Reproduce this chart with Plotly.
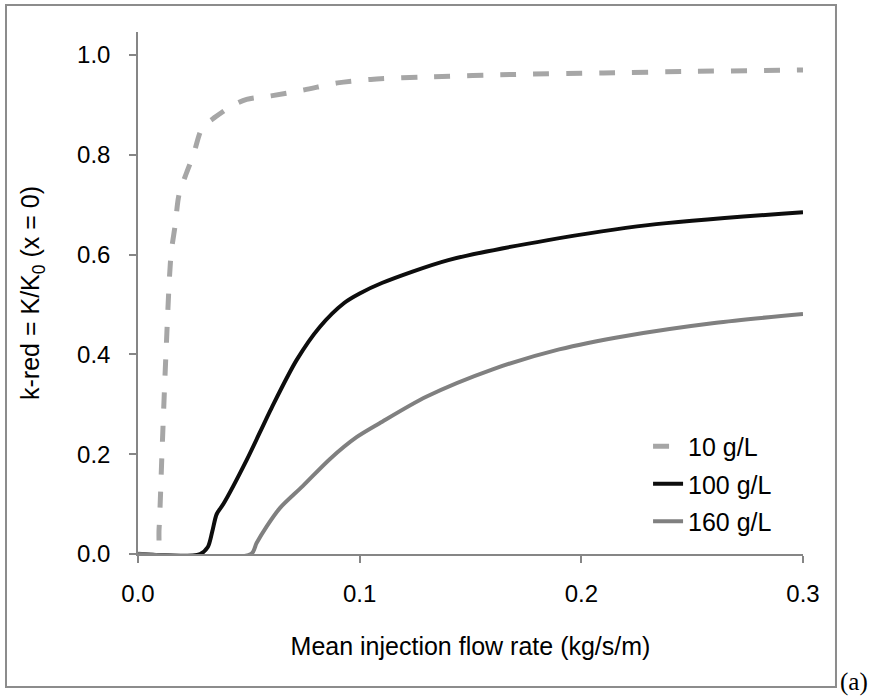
import plotly.graph_objects as go

# ---- data ----
x_10 = [0, 0.0085, 0.0095, 0.0108, 0.0126, 0.0149, 0.0168, 0.0185, 0.022, 0.025, 0.029,
        0.035, 0.042, 0.049, 0.06, 0.075, 0.09, 0.105, 0.13, 0.17, 0.21, 0.25, 0.3]
y_10 = [0, 0, 0.05, 0.2, 0.4, 0.6, 0.66, 0.72, 0.765, 0.80, 0.854,
        0.876, 0.897, 0.911, 0.918, 0.93, 0.944, 0.951, 0.956, 0.961, 0.964, 0.967, 0.97]

x_100 = [0, 0.028, 0.0315, 0.0335, 0.0355, 0.0385, 0.049, 0.0605, 0.0716, 0.082, 0.093,
         0.1, 0.11, 0.14, 0.185, 0.23, 0.3]
y_100 = [0, 0, 0.014, 0.045, 0.08, 0.1, 0.188, 0.295, 0.389, 0.455, 0.503,
         0.522, 0.543, 0.589, 0.629, 0.659, 0.685]

x_160 = [0, 0.051, 0.0535, 0.058, 0.064, 0.0743, 0.0865, 0.0986, 0.109, 0.13, 0.16, 0.19,
         0.22, 0.26, 0.3]
y_160 = [0, 0, 0.022, 0.055, 0.092, 0.136, 0.19, 0.234, 0.262, 0.315, 0.37, 0.41,
         0.437, 0.463, 0.481]

series_names = ["10 g/L", "100 g/L", "160 g/L"]
x_tickvals = [0, 0.1, 0.2, 0.3]
x_ticktext = ["0.0", "0.1", "0.2", "0.3"]
y_tickvals = [0, 0.2, 0.4, 0.6, 0.8, 1.0]
y_ticktext = ["0.0", "0.2", "0.4", "0.6", "0.8", "1.0"]

FONT = "Liberation Sans, Arial, sans-serif"
AXIS_COLOR = "#868686"

fig = go.Figure()
fig.add_trace(go.Scatter(x=x_10, y=y_10, mode="lines", name=series_names[0],
                         legendgroup="a",
                         line=dict(color="#A6A6A6", width=5, dash="16px,17px",
                                   shape="spline", smoothing=0.8)))
fig.add_trace(go.Scatter(x=x_100, y=y_100, mode="lines", name=series_names[1],
                         legendgroup="b",
                         line=dict(color="#0D0D0D", width=4,
                                   shape="spline", smoothing=0.8)))
fig.add_trace(go.Scatter(x=x_160, y=y_160, mode="lines", name=series_names[2],
                         legendgroup="c",
                         line=dict(color="#808080", width=4,
                                   shape="spline", smoothing=0.8)))

fig.update_layout(
    width=870, height=696,
    margin=dict(l=138, r=67, t=32, b=142),
    paper_bgcolor="white", plot_bgcolor="white",
    font=dict(family=FONT, size=24, color="black"),
    showlegend=True,
    legend=dict(x=0.767, y=0.25, xanchor="left", yanchor="top",
                bgcolor="rgba(0,0,0,0)", font=dict(size=25, family=FONT),
                tracegroupgap=2, itemwidth=30),
    xaxis=dict(range=[0, 0.3], tickvals=x_tickvals, ticktext=x_ticktext,
               showline=True, linecolor=AXIS_COLOR, linewidth=1.5,
               ticks="outside", ticklen=7, tickcolor=AXIS_COLOR, tickwidth=1.5,
               showgrid=False, zeroline=False, ticklabelstandoff=10,
               tickfont=dict(size=24),
               title=dict(text="Mean injection flow rate (kg/s/m)",
                          font=dict(size=25), standoff=32)),
    yaxis=dict(range=[0, 1.046], tickvals=y_tickvals, ticktext=y_ticktext,
               showline=True, linecolor=AXIS_COLOR, linewidth=1.5,
               ticks="outside", ticklen=7, tickcolor=AXIS_COLOR, tickwidth=1.5,
               showgrid=False, zeroline=False, ticklabelstandoff=14,
               tickfont=dict(size=24),
               title=dict(text="k-red = K/K<sub>0</sub> (x = 0)",
                          font=dict(size=25), standoff=30)),
    shapes=[dict(type="rect", xref="paper", yref="paper",
                 x0=-0.1985, x1=1.0496, y0=-0.2548, y1=1.0517,
                 line=dict(color="#8C8C8C", width=2), fillcolor="rgba(0,0,0,0)",
                 layer="below")],
    annotations=[dict(text="(a)", xref="paper", yref="paper",
                      x=1.0526, y=-0.245, xanchor="left", yanchor="middle",
                      showarrow=False,
                      font=dict(family="Liberation Serif, Times New Roman, serif",
                                size=25, color="black"))],
)

fig.write_html("out.html", config={"displayModeBar": False},
               post_script="document.body.style.margin='0';document.body.style.overflow='hidden';")
